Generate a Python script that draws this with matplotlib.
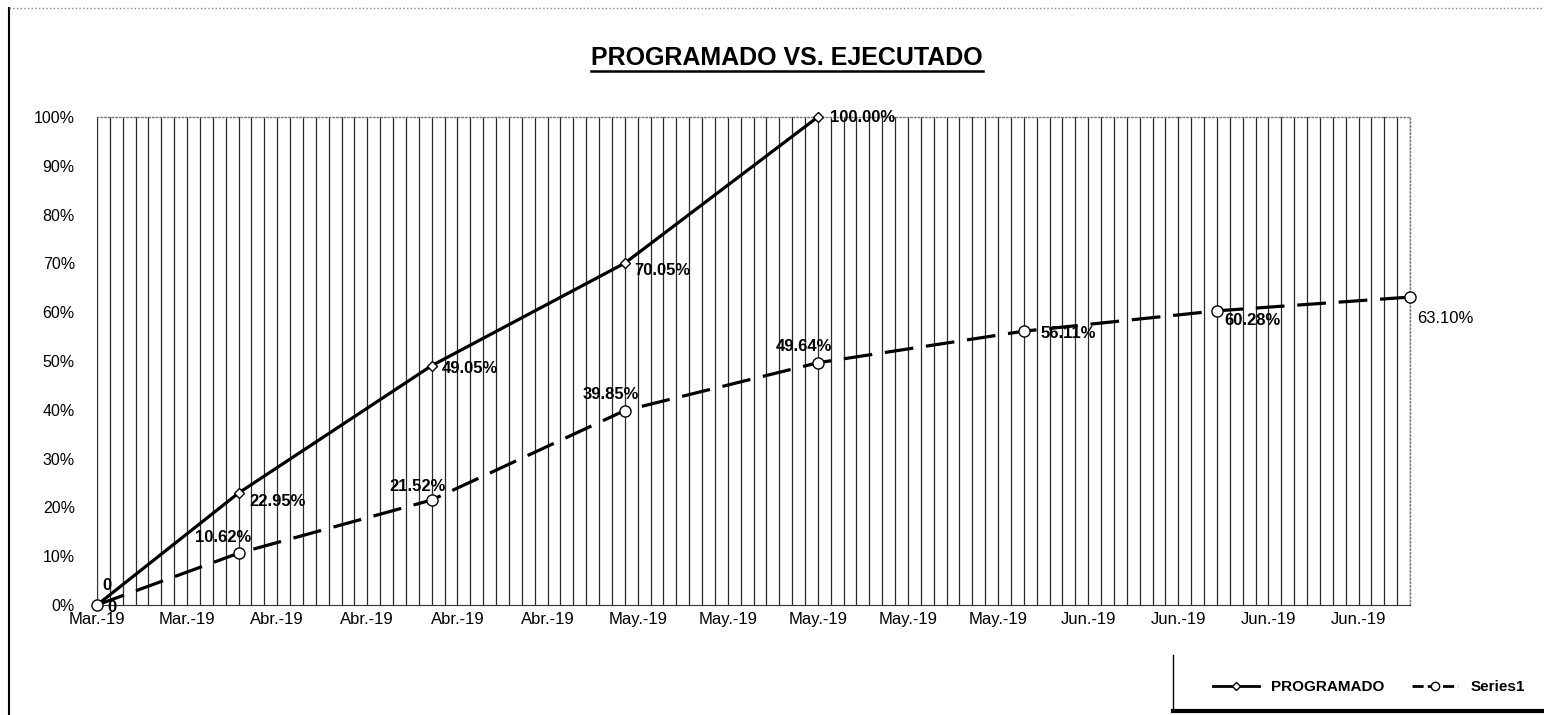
"""
Curva S - Programado vs. Ejecutado
"""

import pandas as pd
import matplotlib
matplotlib.use("Agg")
import matplotlib.pyplot as plt
import matplotlib.dates as mdates
from matplotlib.lines import Line2D
from matplotlib.ticker import PercentFormatter, FixedLocator

plt.rcParams["font.family"] = ["Liberation Sans", "DejaVu Sans"]

# ──────────────────────────────────────────────────────────────
# DATOS
# ──────────────────────────────────────────────────────────────
FECHAS_PROG = ["2019-03-20", "2019-03-31", "2019-04-15", "2019-04-30", "2019-05-15"]
PROGRAMADO = [0.0, 0.2295, 0.4905, 0.7005, 1.0]
ETQ_PROG = ["0", "22.95%", "49.05%", "70.05%", "100.00%"]

FECHAS_EJEC = ["2019-03-20", "2019-03-31", "2019-04-15", "2019-04-30",
               "2019-05-15", "2019-05-31", "2019-06-15", "2019-06-30"]
SERIES1 = [0.0, 0.1062, 0.2152, 0.3985, 0.4964, 0.5611, 0.6028, 0.6310]
ETQ_EJEC = ["0", "10.62%", "21.52%", "39.85%", "49.64%", "56.11%", "60.28%", "63.10%"]

INICIO_X = "2019-03-20"
FIN_X = "2019-06-30"
ETQ_X = ["Mar.-19", "Mar.-19", "Abr.-19", "Abr.-19", "Abr.-19", "Abr.-19",
         "May.-19", "May.-19", "May.-19", "May.-19", "May.-19",
         "Jun.-19", "Jun.-19", "Jun.-19", "Jun.-19"]

# desplazamientos de las etiquetas (pixeles)
OFF_PROG = [(10, 20, "center"), (11, -8, "left"), (10, -3, "left"),
            (9, -7, "left"), (12, -1, "left")]
OFF_EJEC = [(15, -2, "center"), (-15, 16, "center"), (-14, 13, "center"),
            (-14, 16, "center"), (-14, 16, "center"), (17, -2, "left"),
            (7, -10, "left"), (7, -21, "left")]
# ──────────────────────────────────────────────────────────────

fx_prog = pd.to_datetime(FECHAS_PROG)
fx_ejec = pd.to_datetime(FECHAS_EJEC)
ticks_x = pd.date_range(INICIO_X, periods=len(ETQ_X), freq="7D")

fig = plt.figure(figsize=(15.44, 7.15), dpi=100)
ax = fig.add_axes([97 / 1544, 1 - 605 / 715, (1410 - 97) / 1544, (605 - 117) / 715])

# ── Cuadricula diaria ─────────────────────────────────────────
ax.xaxis.set_minor_locator(mdates.DayLocator())
ax.xaxis.set_major_locator(FixedLocator(mdates.date2num(ticks_x)))
ax.set_xticklabels(ETQ_X)
ax.grid(which="both", axis="x", color="#2a2a2a", lw=0.9)
ax.tick_params(which="both", length=0)
ax.tick_params(axis="x", pad=5, labelsize=12)
ax.tick_params(axis="y", pad=16, labelsize=11.5)

# ── Series ────────────────────────────────────────────────────
ax.plot(fx_prog, PROGRAMADO, color="black", lw=2.3, marker="D", ms=5,
        mfc="white", mec="black", mew=1, zorder=4, clip_on=False)
ax.plot(fx_ejec, SERIES1, color="black", lw=2.3, ls=(0, (9, 4)), marker="o",
        ms=8, mfc="white", mec="black", mew=1, zorder=4, clip_on=False)

for x, y, t, (dx, dy, ha) in zip(fx_prog, PROGRAMADO, ETQ_PROG, OFF_PROG):
    ax.annotate(t, (x, y), xytext=(dx, dy), textcoords="offset pixels",
                ha=ha, va="center", fontsize=12, fontweight="bold", zorder=5,
                annotation_clip=False)
for i, (x, y, t, (dx, dy, ha)) in enumerate(zip(fx_ejec, SERIES1, ETQ_EJEC, OFF_EJEC)):
    peso = "normal" if i == len(SERIES1) - 1 else "bold"
    ax.annotate(t, (x, y), xytext=(dx, dy), textcoords="offset pixels",
                ha=ha, va="center", fontsize=12, fontweight=peso, zorder=5,
                annotation_clip=False)

ax.set_xlim(pd.Timestamp(INICIO_X), pd.Timestamp(FIN_X))
ax.set_ylim(0, 1)
ax.yaxis.set_major_locator(FixedLocator([i / 10 for i in range(11)]))
ax.yaxis.set_major_formatter(PercentFormatter(1.0, decimals=0))

for lado in ["top", "right"]:
    ax.spines[lado].set_color("#777777")
    ax.spines[lado].set_linestyle(":")
    ax.spines[lado].set_linewidth(1)
ax.spines["bottom"].set_color("#333333")
ax.spines["left"].set_color("#333333")

# ── Titulo subrayado ──────────────────────────────────────────
titulo = fig.text(787 / 1544, 1 - 58 / 715, "PROGRAMADO VS. EJECUTADO",
                  ha="center", va="center", fontsize=18, fontweight="bold")
fig.canvas.draw()
bb = titulo.get_window_extent(fig.canvas.get_renderer())
fig.add_artist(Line2D([bb.x0 / 1544, bb.x1 / 1544],
                      [(bb.y0 - 1) / 715, (bb.y0 - 1) / 715],
                      transform=fig.transFigure, color="black", lw=1.8))

# ── Leyenda ───────────────────────────────────────────────────
h_prog = Line2D([], [], color="black", lw=2, marker="D", ms=4, mfc="white", mec="black")
h_ejec = Line2D([], [], color="black", lw=2, ls=(0, (4, 1.5)), marker="o", ms=6,
                mfc="white", mec="black")
fig.legend([h_prog, h_ejec], ["PROGRAMADO", "Series1"], ncol=2, frameon=False,
           loc="center", bbox_to_anchor=(1369 / 1544, 1 - 687 / 715),
           prop={"size": 11, "weight": "bold"}, handlelength=3, columnspacing=1.8)

# ── Bordes del grafico ────────────────────────────────────────
fig.add_artist(Line2D([9 / 1544, 9 / 1544], [0, 1 - 8 / 715],
                      transform=fig.transFigure, color="black", lw=1.5))
fig.add_artist(Line2D([9 / 1544, 1], [1 - 8 / 715, 1 - 8 / 715],
                      transform=fig.transFigure, color="#888888", lw=1, ls=":"))
fig.add_artist(Line2D([1173 / 1544, 1173 / 1544], [4 / 715, 1 - 655 / 715],
                      transform=fig.transFigure, color="black", lw=1))
fig.add_artist(Line2D([1173 / 1544, 1], [4 / 715, 4 / 715],
                      transform=fig.transFigure, color="black", lw=3))

fig.savefig("out.png", dpi=100)
plt.close(fig)
